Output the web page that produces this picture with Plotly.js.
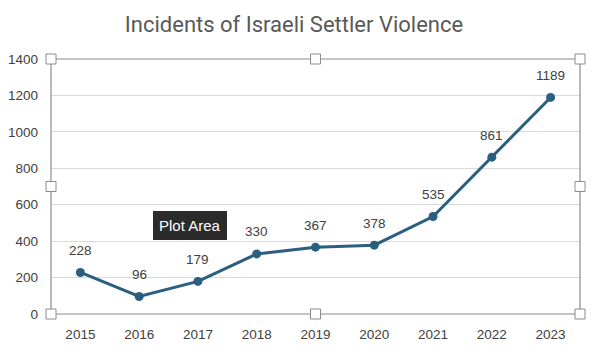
<!DOCTYPE html>
<html>
<head>
<meta charset="utf-8">
<script src="https://cdn.plot.ly/plotly-3.0.1.min.js"></script>
<style>html,body{margin:0;padding:0;background:#fff;}#chart{width:600px;height:353px;}</style>
</head>
<body>
<div id="chart"></div>
<script>
const years = ['2015','2016','2017','2018','2019','2020','2021','2022','2023'];
const incidents = [228, 96, 179, 330, 367, 378, 535, 861, 1189];
const yTicks = [0, 200, 400, 600, 800, 1000, 1200, 1400];

const lineColor = '#2B5F7F';
const titleFont = 'Roboto, "Noto Sans", sans-serif';
const font = '"Liberation Sans", Arial, sans-serif';

function handle(px, py) {
  return {type:'rect', xref:'paper', yref:'paper', xsizemode:'pixel', ysizemode:'pixel',
    xanchor:px, yanchor:py, x0:-5, x1:5, y0:-5, y1:5,
    fillcolor:'#ffffff', line:{color:'#8c8c8c', width:1}, layer:'above'};
}
const shapes = [
  {type:'rect', xref:'paper', yref:'paper', x0:0, x1:1, y0:0, y1:1, line:{color:'#8c8c8c', width:1.2}, fillcolor:'rgba(0,0,0,0)', layer:'above'}
];
[[0,0],[0.5,0],[1,0],[0,0.5],[1,0.5],[0,1],[0.5,1],[1,1]].forEach(p => shapes.push(handle(p[0], p[1])));

const trace = {
  x: years, y: incidents, type:'scatter', mode:'lines+markers',
  line:{color:lineColor, width:3},
  marker:{color:lineColor, size:9},
  cliponaxis:false, hoverinfo:'none'
};

const labelAnnotations = years.map((yr, i) => ({
  x: i, y: incidents[i], xref:'x', yref:'y', text:String(incidents[i]), showarrow:false,
  yshift:22, xanchor:'center', yanchor:'middle',
  font:{family:font, size:13.5, color:'#404040'}
}));

const layout = {
  width:600, height:353,
  margin:{l:51, r:20, t:59, b:39},
  paper_bgcolor:'#ffffff', plot_bgcolor:'#ffffff',
  showlegend:false,
  title:{text:'Incidents of Israeli Settler Violence', x:0.49, xanchor:'center', y:0.93, yanchor:'middle',
    font:{family:titleFont, size:22, color:'#595959'}},
  xaxis:{type:'category', range:[-0.5, 8.5], showgrid:false, zeroline:false, showline:false,
    ticks:'', tickfont:{family:font, size:13.5, color:'#404040'}, ticklabelstandoff:10, fixedrange:true},
  yaxis:{range:[0, 1400], tickvals:yTicks, ticktext:yTicks.map(String), showgrid:true, gridcolor:'#d9d9d9', gridwidth:1,
    zeroline:false, showline:false, ticks:'', tickfont:{family:font, size:13.5, color:'#404040'},
    ticklabelstandoff:12, fixedrange:true},
  shapes: shapes,
  annotations: labelAnnotations.concat([
    {xref:'paper', yref:'paper', x:0.263, y:0.349, xanchor:'center', yanchor:'middle', text:'Plot Area', showarrow:false,
      font:{family:font, size:15, color:'#ffffff'}, bgcolor:'#2b2b2b', borderpad:5, bordercolor:'#2b2b2b'}
  ])
};

Plotly.newPlot('chart', [trace], layout, {staticPlot:true, displayModeBar:false});
</script>
</body>
</html>
